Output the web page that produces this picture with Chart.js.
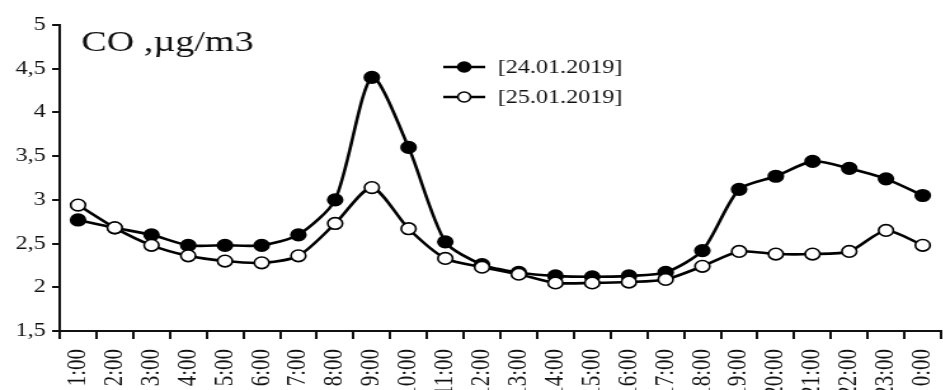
<!DOCTYPE html>
<html>
<head>
<meta charset="utf-8">
<script src="https://cdn.jsdelivr.net/npm/chart.js@4.4.1/dist/chart.umd.min.js"></script>
<style>
  html, body { margin: 0; padding: 0; background: #fff; overflow: hidden; }
  /* the whole plot is drawn a bit narrow and stretched sideways */
  #wrap { position: relative; width: 762px; height: 430px; transform: scaleX(1.27); transform-origin: 0 0; }
</style>
</head>
<body>
<div id="wrap"><canvas id="coChart"></canvas></div>
<script>
const hours = ["1:00", "2:00", "3:00", "4:00", "5:00", "6:00", "7:00", "8:00", "9:00", "10:00", "11:00", "12:00",
  "13:00", "14:00", "15:00", "16:00", "17:00", "18:00", "19:00", "20:00", "21:00", "22:00", "23:00", "0:00"];
const co24 = [2.77, 2.68, 2.6, 2.48, 2.48, 2.48, 2.6, 3.0, 4.4, 3.6, 2.52, 2.26,
  2.17, 2.13, 2.12, 2.13, 2.17, 2.42, 3.12, 3.27, 3.44, 3.36, 3.24, 3.05];
const co25 = [2.94, 2.68, 2.48, 2.36, 2.3, 2.28, 2.36, 2.73, 3.14, 2.67, 2.33, 2.23,
  2.15, 2.05, 2.05, 2.06, 2.09, 2.24, 2.41, 2.38, 2.38, 2.41, 2.65, 2.48];
const seriesNames = ["[24.01.2019]", "[25.01.2019]"];
const yMin = 1.5, yMax = 5, yStep = 0.5;
const unitLabel = "CO ,\u00b5g/m3";

const ink = "#111";
const serif = "'Liberation Serif', 'Times New Roman', serif";

// unit text in the top left corner of the plot
const cornerTitle = {
  id: "cornerTitle",
  afterDraw(chart, args, opts) {
    const { ctx } = chart;
    ctx.save();
    ctx.font = opts.font;
    ctx.fillStyle = opts.color;
    ctx.textBaseline = "alphabetic";
    ctx.fillText(opts.text, opts.x, opts.y);
    ctx.restore();
  },
};

// legend rows drawn as line - marker - line, like the series themselves
const lineLegend = {
  id: "lineLegend",
  afterDraw(chart, args, opts) {
    const { ctx } = chart;
    chart.data.datasets.forEach((ds, i) => {
      const y = opts.y + i * opts.rowGap;
      ctx.save();
      ctx.strokeStyle = ds.borderColor;
      ctx.lineWidth = ds.borderWidth;
      ctx.beginPath();
      ctx.moveTo(opts.x, y);
      ctx.lineTo(opts.x + opts.lineLength, y);
      ctx.stroke();
      ctx.beginPath();
      ctx.arc(opts.x + opts.lineLength / 2, y, opts.markerRadius, 0, Math.PI * 2);
      ctx.fillStyle = ds.pointBackgroundColor;
      ctx.fill();
      ctx.lineWidth = ds.pointBorderWidth;
      ctx.strokeStyle = ds.pointBorderColor;
      ctx.stroke();
      ctx.font = opts.font;
      ctx.fillStyle = opts.color;
      ctx.textBaseline = "middle";
      ctx.fillText(ds.label, opts.x + opts.lineLength + opts.textGap, y + 1);
      ctx.restore();
    });
  },
};

const lineStyle = {
  borderColor: "#000",
  borderWidth: 2.6,
  tension: 0.25,
  pointRadius: 5.8,
  pointBorderColor: "#000",
  pointBorderWidth: 1.6,
};

new Chart(document.getElementById("coChart"), {
  type: "line",
  data: {
    labels: hours,
    datasets: [
      { ...lineStyle, label: seriesNames[0], data: co24, pointBackgroundColor: "#000", order: 1 },
      { ...lineStyle, label: seriesNames[1], data: co25, pointBackgroundColor: "#fff", order: 0 },
    ],
  },
  options: {
    responsive: true,
    maintainAspectRatio: false,
    animation: false,
    layout: { padding: { top: 25, left: 0, right: 12, bottom: 0 } },
    plugins: {
      legend: { display: false },
      tooltip: { enabled: false },
      cornerTitle: { text: unitLabel, x: 64, y: 51, font: `30px ${serif}`, color: ink },
      lineLegend: {
        x: 349, y: 67, rowGap: 30, lineLength: 33, textGap: 10, markerRadius: 5,
        font: `19px ${serif}`, color: ink,
      },
    },
    scales: {
      x: {
        offset: true,
        grid: { offset: true, drawOnChartArea: false, drawTicks: true, tickLength: 8, color: ink, lineWidth: 2 },
        border: { display: true, color: ink, width: 2 },
        ticks: {
          autoSkip: false,
          minRotation: 90,
          maxRotation: 90,
          padding: 10,
          color: ink,
          font: { family: serif, size: 21 },
        },
        afterFit(scale) { scale.height = 99; },
      },
      y: {
        min: yMin,
        max: yMax,
        grid: { drawOnChartArea: false, drawTicks: true, tickLength: 6, color: ink, lineWidth: 2 },
        border: { display: true, color: ink, width: 2 },
        ticks: {
          stepSize: yStep,
          padding: 5,
          color: ink,
          font: { family: serif, size: 19 },
          callback: (v) => String(v).replace(".", ","),
        },
        afterFit(scale) { scale.width = 47; },
      },
    },
  },
  plugins: [cornerTitle, lineLegend],
});
</script>
</body>
</html>
